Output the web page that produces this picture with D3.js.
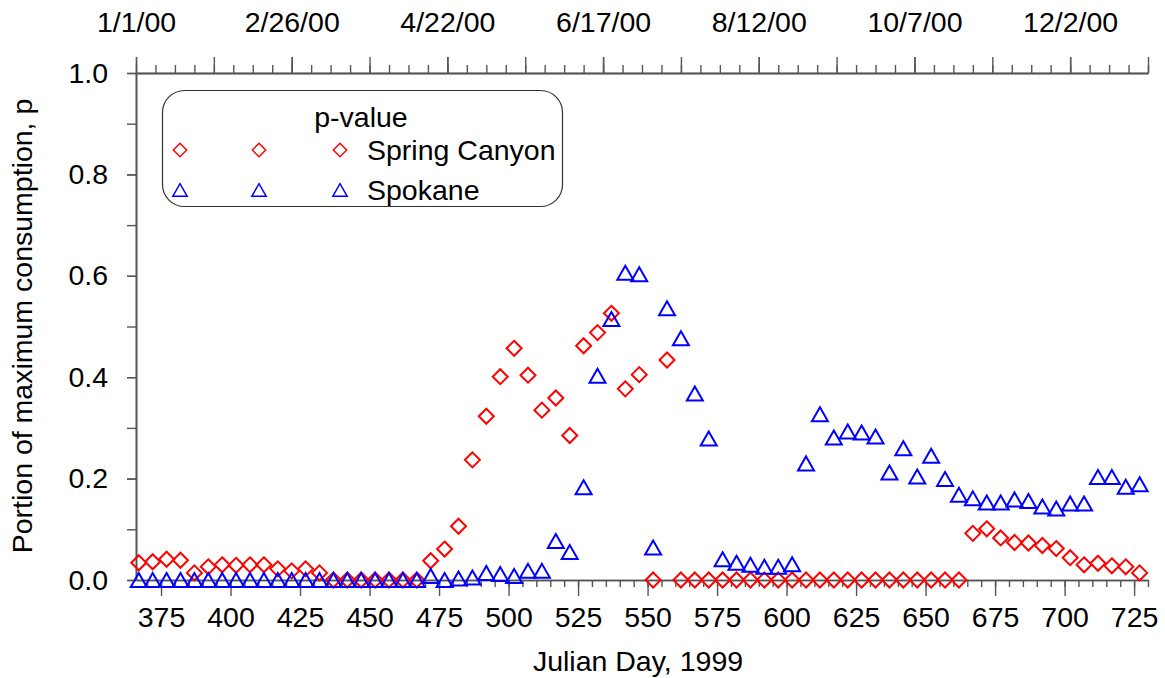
<!DOCTYPE html>
<html><head><meta charset="utf-8">
<script src="https://cdn.jsdelivr.net/npm/d3@7"></script>
<style>
html,body{margin:0;padding:0;background:#fff;}
svg{display:block;font-family:"Liberation Sans",Arial,sans-serif;}
</style></head>
<body><svg id="chart" width="1165" height="678"></svg>
<script>
const days = [367,372,377,382,387,392,397,402,407,412,417,422,427,432,437,442,447,452,457,462,467,472,477,482,487,492,497,502,507,512,517,522,527,532,537,542,547,552,557,562,567,572,577,582,587,592,597,602,607,612,617,622,627,632,637,642,647,652,657,662,667,672,677,682,687,692,697,702,707,712,717,722,727];
const springCanyon = [0.034,0.036,0.041,0.039,0.014,0.026,0.030,0.029,0.030,0.030,0.022,0.018,0.022,0.014,
  0,0,0,0,0,0,0,
  0.038,0.061,0.106,0.237,0.323,0.401,0.457,0.404,0.335,0.359,0.285,0.462,0.488,0.526,0.377,0.405,
  0,0.434,
  0,0,0,0,0,0,0,0,0,0,0,0,0,0,0,0,0,0,0,0,0,
  0.092,0.101,0.083,0.074,0.073,0.068,0.062,0.044,0.030,0.033,0.028,0.026,0.014];
const spokane = [0,0,0,0,0,0,0,0,0,0,0,0,0,0,0,0,0,0,0,0,0,
  0.008,0.000,0.003,0.005,0.014,0.012,0.008,0.018,0.018,0.077,0.055,0.183,0.403,0.515,0.606,0.603,
  0.064,0.536,0.477,0.368,0.279,0.041,0.034,0.030,0.026,0.026,0.031,0.230,0.327,0.281,0.293,0.291,
  0.283,0.212,0.260,0.204,0.245,0.199,0.168,0.161,0.153,0.153,0.159,0.156,0.145,0.141,0.151,0.151,
  0.203,0.203,0.184,0.189];
const bottomTicks = [375,400,425,450,475,500,525,550,575,600,625,650,675,700,725];
const yTickLabels = [0.0,0.2,0.4,0.6,0.8,1.0];
const topTickDays = [366,422,478,534,590,646,702];
const topTickLabels = ["1/1/00","2/26/00","4/22/00","6/17/00","8/12/00","10/7/00","12/2/00"];
const seriesNames = ["Spring Canyon","Spokane"];
const legendTitle = "p-value";

const svg = d3.select("#chart");
const FS = 28.5;
const axisColor = "#555";
const x = d3.scaleLinear().domain([366,730]).range([136,1148]);
const y = d3.scaleLinear().domain([0,1]).range([580,73]);

function styleAxis(g){
  g.select(".domain").attr("stroke",axisColor).attr("stroke-width",1.6);
  g.selectAll(".tick line").attr("stroke",axisColor).attr("stroke-width",1.4);
  g.selectAll(".tick text").attr("fill","#000").attr("font-size",FS).attr("font-family","Liberation Sans, Arial, sans-serif");
}

// bottom axis minor
const gbMinor = svg.append("g").attr("transform",`translate(0,${y(0)})`)
  .call(d3.axisBottom(x).tickValues(d3.range(370,731,5)).tickSize(7).tickFormat("").tickSizeOuter(0));
styleAxis(gbMinor);
const gb = svg.append("g").attr("transform",`translate(0,${y(0)})`)
  .call(d3.axisBottom(x).tickValues(bottomTicks).tickSize(16).tickPadding(11).tickFormat(d3.format("d")).tickSizeOuter(0));
styleAxis(gb);

// top axis
const gtMinor = svg.append("g").attr("transform",`translate(0,${y(1)})`)
  .call(d3.axisTop(x).tickValues(d3.range(366,731,7)).tickSize(8).tickFormat("").tickSizeOuter(0));
styleAxis(gtMinor);
const gtMajor = svg.append("g").attr("transform",`translate(0,${y(1)})`)
  .call(d3.axisTop(x).tickValues(d3.range(366,731,28)).tickSize(16).tickFormat("").tickSizeOuter(0));
styleAxis(gtMajor);
const gt = svg.append("g").attr("transform",`translate(0,${y(1)})`)
  .call(d3.axisTop(x).tickValues(topTickDays).tickSize(16).tickPadding(25)
    .tickFormat((d,i)=>topTickLabels[i]).tickSizeOuter(0));
styleAxis(gt);

// left axis
const gl = svg.append("g").attr("transform",`translate(${x(366)},0)`)
  .call(d3.axisLeft(y).tickValues(d3.range(0,1.0001,0.1)).tickSize(9).tickFormat("").tickSizeOuter(0));
styleAxis(gl);
const gl2 = svg.append("g").attr("transform",`translate(${x(366)},0)`)
  .call(d3.axisLeft(y).tickValues(yTickLabels).tickSize(9).tickPadding(19).tickFormat(d3.format(".1f")).tickSizeOuter(0));
styleAxis(gl2);

// axis titles
svg.append("text").attr("x",638).attr("y",671).attr("text-anchor","middle")
  .attr("font-size",FS).text("Julian Day, 1999");
svg.append("text").attr("transform",`translate(32,326) rotate(-90)`).attr("text-anchor","middle")
  .attr("font-size",FS).text("Portion of maximum consumption, p");

// markers
const diamond = "M0,-7.5L7.5,0L0,7.5L-7.5,0Z";
const triangle = "M0,-7L8,7L-8,7Z";
const red = "#ff0000", blue = "#0000ff";

svg.append("g").selectAll("path").data(days.map((d,i)=>[d,springCanyon[i]])).join("path")
  .attr("d",diamond).attr("transform",d=>`translate(${x(d[0])},${y(d[1])})`)
  .attr("fill","none").attr("stroke",red).attr("stroke-width",2);
svg.append("g").selectAll("path").data(days.map((d,i)=>[d,spokane[i]])).join("path")
  .attr("d",triangle).attr("transform",d=>`translate(${x(d[0])},${y(d[1])})`)
  .attr("fill","none").attr("stroke",blue).attr("stroke-width",2);

// legend
const lg = svg.append("g");
lg.append("rect").attr("x",162.5).attr("y",90.5).attr("width",400).attr("height",116)
  .attr("rx",22).attr("ry",22).attr("fill","#fff").attr("stroke","#333").attr("stroke-width",1.2);
lg.append("text").attr("x",361).attr("y",127).attr("text-anchor","middle").attr("font-size",FS).text(legendTitle);
const legendX = [180,259,340];
const legendY = [150,190];
const legendShapes = [diamond, triangle];
const legendColors = [red, blue];
seriesNames.forEach((name,r)=>{
  legendX.forEach(lx=>{
    lg.append("path").attr("d",legendShapes[r]).attr("transform",`translate(${lx},${legendY[r]}) scale(0.9)`)
      .attr("fill","none").attr("stroke",legendColors[r]).attr("stroke-width",1.6);
  });
  lg.append("text").attr("x",367).attr("y",legendY[r]+10).attr("font-size",FS).text(name);
});
</script></body></html>
